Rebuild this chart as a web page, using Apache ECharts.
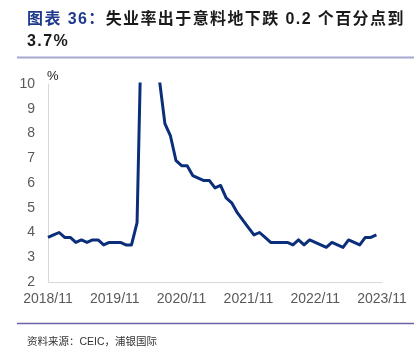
<!DOCTYPE html>
<html>
<head>
<meta charset="utf-8">
<script src="https://cdn.jsdelivr.net/npm/echarts@6/dist/echarts.min.js"></script>
<style>html,body{margin:0;padding:0;background:#fff;}#c{width:414px;height:354px;}</style>
</head>
<body>
<div id="c"></div>
<script>
// Monthly categories 2018/11 .. 2023/11
const categories = [
  '2018/11','2018/12',
  '2019/01','2019/02','2019/03','2019/04','2019/05','2019/06','2019/07','2019/08','2019/09','2019/10','2019/11','2019/12',
  '2020/01','2020/02','2020/03','2020/04','2020/05','2020/06','2020/07','2020/08','2020/09','2020/10','2020/11','2020/12',
  '2021/01','2021/02','2021/03','2021/04','2021/05','2021/06','2021/07','2021/08','2021/09','2021/10','2021/11','2021/12',
  '2022/01','2022/02','2022/03','2022/04','2022/05','2022/06','2022/07','2022/08','2022/09','2022/10','2022/11','2022/12',
  '2023/01','2023/02','2023/03','2023/04','2023/05','2023/06','2023/07','2023/08','2023/09','2023/10','2023/11'
];
// Unemployment rate, %
const unemployment = [
  3.8, 3.9,
  4.0, 3.8, 3.8, 3.6, 3.7, 3.6, 3.7, 3.7, 3.5, 3.6, 3.6, 3.6,
  3.5, 3.5, 4.4, 14.7, 13.2, 11.0, 10.2, 8.4, 7.9, 6.9, 6.7, 6.7,
  6.3, 6.2, 6.1, 6.1, 5.8, 5.9, 5.4, 5.2, 4.8, 4.5, 4.2, 3.9,
  4.0, 3.8, 3.6, 3.6, 3.6, 3.6, 3.5, 3.7, 3.5, 3.7, 3.6, 3.5,
  3.4, 3.6, 3.5, 3.4, 3.7, 3.6, 3.5, 3.8, 3.8, 3.9, null
];
const yTicks = [2, 3, 4, 5, 6, 7, 8, 9, 10];
const titleLead = '图表 36：';
const titleRest = '失业率出于意料地下跌 0.2 个百分点到';
const titleLine2 = '3.7%';
const sourceText = '资料来源：CEIC，浦银国际';
const unitLabel = '%';

const font = '"Liberation Sans", Arial, "Noto Sans CJK SC", sans-serif';
// wrap each character as its own rich token so it can get a little extra spacing
const spaced = (s, style) => Array.from(s).map(ch => '{' + style + '|' + ch + '}').join('');

const chart = echarts.init(document.getElementById('c'), null, {renderer: 'canvas'});
chart.setOption({
  animation: false,
  backgroundColor: '#fff',
  title: {
    left: 27, top: 9, padding: 0,
    text: spaced(titleLead, 'a') + spaced(titleRest, 'b') + '\n' + spaced(titleLine2, 'b'),
    textStyle: {
      rich: {
        a: {fontSize: 16, fontWeight: 'bold', color: '#1F3A8C', fontFamily: font, lineHeight: 22, padding: [0, 1.4, 0, 0]},
        b: {fontSize: 16, fontWeight: 'bold', color: '#1a1a1a', fontFamily: font, lineHeight: 22, padding: [0, 1.4, 0, 0]}
      }
    }
  },
  graphic: [
    {type: 'line', shape: {x1: 17, y1: 57.5, x2: 414, y2: 57.5}, style: {stroke: '#A7A7D2', lineWidth: 2}},
    {type: 'line', shape: {x1: 17, y1: 323.5, x2: 414, y2: 323.5}, style: {stroke: '#6A63A8', lineWidth: 1.5}},
    {type: 'text', left: 27, top: 337, style: {text: sourceText, fontSize: 10.5, fill: '#333', fontFamily: font}}
  ],
  grid: {left: 48, right: 32, top: 84, bottom: 72, containLabel: false},
  xAxis: {
    type: 'category',
    data: categories,
    boundaryGap: false,
    axisLine: {lineStyle: {color: '#D9D9D9', width: 1}},
    axisTick: {show: false},
    axisLabel: {
      interval: 11,
      color: '#595959',
      fontSize: 14,
      fontFamily: font,
      margin: 10,
      showMaxLabel: true
    },
    splitLine: {show: false}
  },
  yAxis: {
    type: 'value',
    min: yTicks[0], max: yTicks[yTicks.length - 1], interval: 1,
    name: unitLabel,
    nameLocation: 'end',
    nameGap: 1,
    nameTextStyle: {color: '#1a1a1a', fontSize: 13, fontFamily: font, align: 'left', padding: [0, 0, 0, -1]},
    axisLine: {show: true, lineStyle: {color: '#D9D9D9', width: 1}},
    axisTick: {show: false},
    axisLabel: {color: '#595959', fontSize: 14, fontFamily: font, margin: 13},
    splitLine: {show: false}
  },
  series: [{
    type: 'line',
    data: unemployment,
    symbol: 'none',
    clip: true,
    connectNulls: false,
    lineStyle: {color: '#0B2E7A', width: 3, join: 'round'}
  }]
});
</script>
</body>
</html>
